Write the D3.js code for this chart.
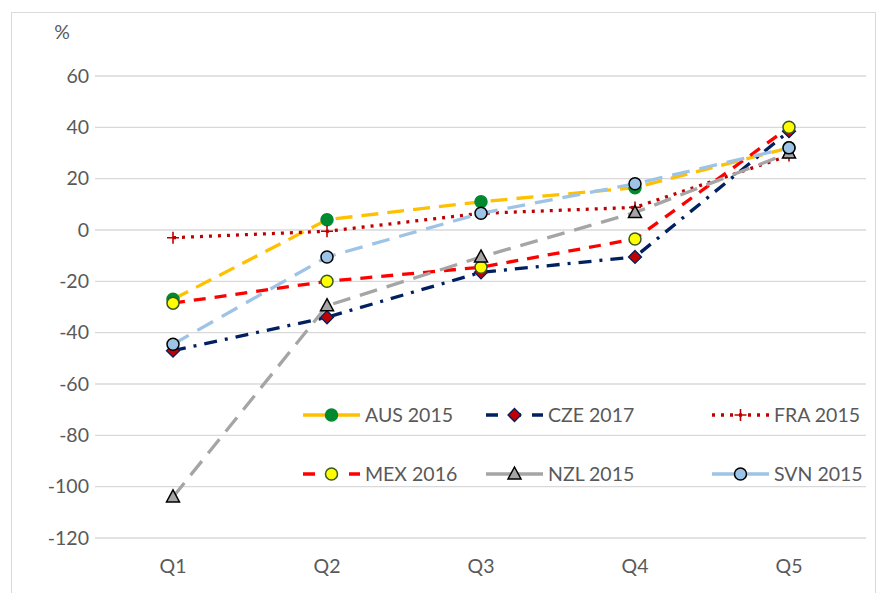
<!DOCTYPE html>
<html lang="en">
<head>
<meta charset="utf-8">
<script src="https://d3js.org/d3.v7.min.js"></script>
<style>
  body { margin: 0; background: #fff; }
  text { font-family: Lato, "Open Sans", sans-serif; fill: #595959; }
</style>
</head>
<body>
<div id="container"></div>
<script>
// data
var categories = ["Q1", "Q2", "Q3", "Q4", "Q5"];
var yTicks = [60, 40, 20, 0, -20, -40, -60, -80, -100, -120];
var seriesNames = ["AUS 2015", "CZE 2017", "FRA 2015", "MEX 2016", "NZL 2015", "SVN 2015"];
var aus = [-27, 4, 11, 16.5, 32];
var cze = [-47, -34, -16.5, -10.5, 38.5];
var fra = [-3, -0.5, 6.5, 8.8, 29];
var mex = [-28.5, -20, -14.5, -3.5, 40];
var nzl = [-104, -29.5, -10.5, 6.8, 30];
var svn = [-44.5, -10.5, 6.5, 18, 32];

var styles = [
  {color: "#FFC000", dash: "17,9", legendDash: null, marker: "circle", fill: "#00892F", edge: "#00892F"},
  {color: "#002060", dash: "13,8,3,8", legendDash: "12,11", marker: "diamond", fill: "#C00000", edge: "#002060"},
  {color: "#C00000", dash: "3,6", legendDash: "3,6", marker: "plus", fill: "none", edge: "#C00000"},
  {color: "#FF0000", dash: "12,9", legendDash: "12,11", marker: "circle", fill: "#FFFF00", edge: "#3B5A1D"},
  {color: "#A5A5A5", dash: "18,10", legendDash: null, marker: "triangle", fill: "#A5A5A5", edge: "#000"},
  {color: "#9DC3E6", dash: "18,10", legendDash: null, marker: "circle", fill: "#9DC3E6", edge: "#000"}
];
var values = [aus, cze, fra, mex, nzl, svn];

var W = 879, H = 593;
var svg = d3.select("#container").append("svg")
    .attr("width", W).attr("height", H);

// chart border
svg.append("rect")
    .attr("x", 11.5).attr("y", 12.5)
    .attr("width", 864).attr("height", 600)
    .attr("fill", "none").attr("stroke", "#D9D9D9");

var x = d3.scalePoint().domain(categories).range([173, 789]);
var y = d3.scaleLinear().domain([-120, 60]).range([538, 76]);
var plotLeft = 95, plotRight = 866;

// gridlines
svg.append("g").selectAll("line")
    .data(yTicks).enter().append("line")
    .attr("x1", plotLeft).attr("x2", plotRight)
    .attr("y1", function(d) { return y(d); })
    .attr("y2", function(d) { return y(d); })
    .attr("stroke", "#D9D9D9").attr("stroke-width", 1.3);

// y labels
svg.append("g").selectAll("text")
    .data(yTicks).enter().append("text")
    .attr("x", 89).attr("y", function(d) { return y(d); })
    .attr("dy", "0.35em").attr("text-anchor", "end")
    .style("font-size", "19.5px")
    .text(function(d) { return d; });

svg.append("text").attr("x", 62).attr("y", 32)
    .attr("dy", "0.35em").attr("text-anchor", "middle")
    .style("font-size", "19.5px").text("%");

// x labels
svg.append("g").selectAll("text")
    .data(categories).enter().append("text")
    .attr("x", function(d) { return x(d); }).attr("y", 566)
    .attr("dy", "0.35em").attr("text-anchor", "middle")
    .style("font-size", "19.5px")
    .text(function(d) { return d; });

function drawMarker(g, type, cx, cy, st) {
  if (type == "circle") {
    g.append("circle").attr("cx", cx).attr("cy", cy).attr("r", 6)
      .attr("fill", st.fill).attr("stroke", st.edge).attr("stroke-width", 1.5);
  } else if (type == "diamond") {
    g.append("path")
      .attr("d", "M" + cx + "," + (cy - 6.5) + "L" + (cx + 6.5) + "," + cy + "L" + cx + "," + (cy + 6.5) + "L" + (cx - 6.5) + "," + cy + "Z")
      .attr("fill", st.fill).attr("stroke", st.edge).attr("stroke-width", 1.3);
  } else if (type == "triangle") {
    g.append("path")
      .attr("d", "M" + cx + "," + (cy - 7) + "L" + (cx + 6.5) + "," + (cy + 5) + "L" + (cx - 6.5) + "," + (cy + 5) + "Z")
      .attr("fill", st.fill).attr("stroke", st.edge).attr("stroke-width", 1.5);
  } else if (type == "plus") {
    g.append("path")
      .attr("d", "M" + (cx - 6) + "," + cy + "H" + (cx + 6) + "M" + cx + "," + (cy - 6) + "V" + (cy + 6))
      .attr("stroke", st.edge).attr("stroke-width", 1.6).attr("fill", "none");
  }
}

var line = d3.line()
    .x(function(d, i) { return x(categories[i]); })
    .y(function(d) { return y(d); });

values.forEach(function(vals, s) {
  var st = styles[s];
  var g = svg.append("g");
  g.append("path").datum(vals)
    .attr("d", line)
    .attr("fill", "none")
    .attr("stroke", st.color)
    .attr("stroke-width", 3.3)
    .attr("stroke-dasharray", st.dash);
  vals.forEach(function(v, i) {
    drawMarker(g, st.marker, x(categories[i]), y(v), st);
  });
});

// legend
var legX = [303, 486, 712];
var legY = [415, 474];
seriesNames.forEach(function(name, s) {
  var st = styles[s];
  var lx = legX[s % 3], ly = legY[Math.floor(s / 3)];
  var g = svg.append("g");
  g.append("line")
    .attr("x1", lx).attr("x2", lx + 57).attr("y1", ly).attr("y2", ly)
    .attr("stroke", st.color).attr("stroke-width", 3.3)
    .attr("stroke-dasharray", st.legendDash);
  drawMarker(g, st.marker, lx + 28.5, ly, st);
  g.append("text").attr("x", lx + 62).attr("y", ly)
    .attr("dy", "0.35em").style("font-size", "19.5px").text(name);
});
</script>
</body>
</html>
